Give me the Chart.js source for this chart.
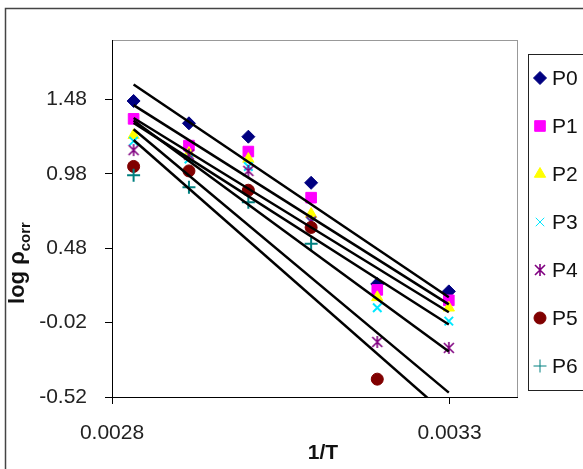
<!DOCTYPE html>
<html>
<head>
<meta charset="utf-8">
<script src="https://cdn.jsdelivr.net/npm/chart.js@4.4.1/dist/chart.umd.min.js"></script>
<style>
  html, body { margin: 0; padding: 0; background: #fff; }
</style>
</head>
<body>
<canvas id="c" width="583" height="469"></canvas>
<script>
// 1/T values (K^-1)
const invT = [0.002832, 0.002914, 0.003002, 0.003095, 0.003193, 0.003299];

const names = ['P0', 'P1', 'P2', 'P3', 'P4', 'P5', 'P6'];
const p0 = [1.47, 1.32, 1.23, 0.92, 0.24, 0.19];
const p1 = [1.35, 1.17, 1.13, 0.82, 0.20, 0.13];
const p2 = [1.24, 1.12, 1.08, 0.71, 0.15, 0.08];
const p3 = [1.20, 1.08, 1.03, 0.66, 0.08, -0.01];
const p4 = [1.14, 1.11, 1.00, 0.66, -0.15, -0.19];
const p5 = [1.03, 1.00, 0.87, 0.62, -0.40, -0.53];
const p6 = [0.97, 0.89, 0.79, 0.51, -0.61, -0.65];

const yTicks = [-0.52, -0.02, 0.48, 0.98, 1.48];
const xTicks = [0.0028, 0.0033];
const yMin = -0.52, yMax = 1.88;
const xMin = 0.0028, xMax = 0.0034;

// Excel style asterisk marker (x with a vertical bar)
function asterisk(color) {
  const c = document.createElement('canvas');
  c.width = 14; c.height = 14;
  const g = c.getContext('2d');
  g.strokeStyle = color; g.lineWidth = 1.6;
  g.beginPath();
  g.moveTo(2, 2); g.lineTo(12, 12);
  g.moveTo(12, 2); g.lineTo(2, 12);
  g.moveTo(7, 1); g.lineTo(7, 13);
  g.stroke();
  return c;
}

const styles = [
  { style: 'rectRot', color: '#000080', r: 6.5 },
  { style: 'rect', color: '#ff00ff', r: 7.5 },
  { style: 'triangle', color: '#ffff00', r: 6.5 },
  { style: 'crossRot', color: '#00e8ff', r: 6 },
  { style: asterisk('#800080'), color: '#800080', r: 7 },
  { style: 'circle', color: '#800000', r: 6 },
  { style: 'cross', color: '#008080', r: 6.5 }
];

const series = [p0, p1, p2, p3, p4, p5, p6];

// least squares trend line over the data range
function trend(ys) {
  const n = invT.length;
  const mx = invT.reduce((a, b) => a + b, 0) / n;
  const my = ys.reduce((a, b) => a + b, 0) / n;
  let sxy = 0, sxx = 0;
  for (let i = 0; i < n; i++) {
    sxy += (invT[i] - mx) * (ys[i] - my);
    sxx += (invT[i] - mx) * (invT[i] - mx);
  }
  const b = sxy / sxx, a = my - b * mx;
  return [{ x: invT[0], y: a + b * invT[0] }, { x: invT[n - 1], y: a + b * invT[n - 1] }];
}

const datasets = [];
series.forEach((ys, i) => {
  const s = styles[i];
  datasets.push({
    label: names[i],
    data: ys.map((y, j) => ({ x: invT[j], y: y })),
    pointStyle: s.style,
    pointRadius: ctx => (ctx.raw && ctx.raw.y < yMin) ? 0 : s.r,
    backgroundColor: s.color,
    borderColor: s.color,
    pointBorderWidth: (s.style === 'cross' || s.style === 'crossRot') ? 2 : 1,
    showLine: false,
    order: 7 - i
  });
});
series.forEach((ys, i) => {
  datasets.push({
    label: 'trend ' + names[i],
    data: trend(ys),
    showLine: true,
    borderColor: '#000',
    borderWidth: 2.5,
    pointRadius: 0,
    clip: 0,
    order: 0
  });
});

const frame = {
  id: 'frame',
  beforeDraw(chart) {
    const ctx = chart.ctx, a = chart.chartArea;
    ctx.save();
    ctx.fillStyle = '#fff';
    ctx.fillRect(0, 0, chart.width, chart.height);
    ctx.strokeStyle = '#444';
    ctx.lineWidth = 1.5;
    ctx.beginPath();
    ctx.moveTo(5.5, chart.height + 2);
    ctx.lineTo(5.5, 8.5);
    ctx.lineTo(chart.width + 2, 8.5);
    ctx.stroke();
    ctx.strokeStyle = '#999';
    ctx.lineWidth = 1;
    ctx.strokeRect(a.left + 0.5, a.top + 0.5, a.right - a.left, a.bottom - a.top);
    ctx.restore();
  },
  afterDraw(chart) {
    const ctx = chart.ctx;
    ctx.save();
    ctx.fillStyle = '#111';
    // x title
    ctx.font = 'bold 21px "Liberation Sans", Arial, sans-serif';
    ctx.textAlign = 'center';
    ctx.textBaseline = 'middle';
    ctx.fillText('1/T', 323, 453);
    // y title with subscript
    ctx.translate(24, 263);
    ctx.rotate(-Math.PI / 2);
    const main = 'log \u03c1', sub = 'corr';
    ctx.font = 'bold 22px "Liberation Sans", Arial, sans-serif';
    const w1 = ctx.measureText(main).width;
    ctx.font = 'bold 15px "Liberation Sans", Arial, sans-serif';
    const w2 = ctx.measureText(sub).width;
    const x0 = -(w1 + w2) / 2;
    ctx.textAlign = 'left';
    ctx.textBaseline = 'alphabetic';
    ctx.font = 'bold 22px "Liberation Sans", Arial, sans-serif';
    ctx.fillText(main, x0, 0);
    ctx.font = 'bold 15px "Liberation Sans", Arial, sans-serif';
    ctx.fillText(sub, x0 + w1, 6);
    ctx.restore();

    // legend
    ctx.save();
    ctx.strokeStyle = '#222';
    ctx.lineWidth = 1;
    ctx.strokeRect(528.5, 54.5, 80, 336);
    ctx.font = '21px "Liberation Sans", Arial, sans-serif';
    ctx.textAlign = 'left';
    ctx.textBaseline = 'middle';
    names.forEach((n, i) => {
      const y = 78 + 48 * i, s = styles[i];
      ctx.fillStyle = s.color;
      ctx.strokeStyle = s.color;
      Chart.helpers.drawPoint(ctx, {
        pointStyle: s.style, radius: s.r, rotation: 0,
        borderWidth: (s.style === 'cross' || s.style === 'crossRot') ? 2 : 1
      }, 540, y);
      ctx.fillStyle = '#111';
      ctx.fillText(n, 552, y + 1);
    });
    ctx.restore();
  }
};

new Chart(document.getElementById('c'), {
  type: 'scatter',
  data: { datasets: datasets },
  plugins: [frame],
  options: {
    responsive: false,
    animation: false,
    events: [],
    layout: { padding: { top: 40, right: 66, left: 0, bottom: 0 } },
    plugins: { legend: { display: false }, tooltip: { enabled: false } },
    scales: {
      x: {
        type: 'linear',
        min: xMin,
        max: xMax,
        afterBuildTicks: s => { s.ticks = xTicks.map(v => ({ value: v })); },
        afterFit: s => { s.height = 72; },
        grid: { drawOnChartArea: false, drawTicks: true, tickLength: 7, color: '#000' },
        border: { color: '#000', width: 1 },
        ticks: {
          padding: 17,
          color: '#222',
          font: { family: '"Liberation Sans", Arial, sans-serif', size: 21 },
          maxRotation: 0,
          autoSkip: false,
          callback: v => Number(v).toFixed(4)
        }
      },
      y: {
        type: 'linear',
        min: yMin,
        max: yMax,
        afterBuildTicks: s => { s.ticks = yTicks.map(v => ({ value: v })); },
        afterFit: s => { s.width = 112; },
        grid: { drawOnChartArea: false, drawTicks: true, tickLength: 7, color: '#000' },
        border: { color: '#000', width: 1 },
        ticks: {
          padding: 18,
          color: '#222',
          font: { family: '"Liberation Sans", Arial, sans-serif', size: 21 },
          autoSkip: false,
          callback: v => Number(v).toFixed(2)
        }
      }
    }
  }
});
</script>
</body>
</html>
